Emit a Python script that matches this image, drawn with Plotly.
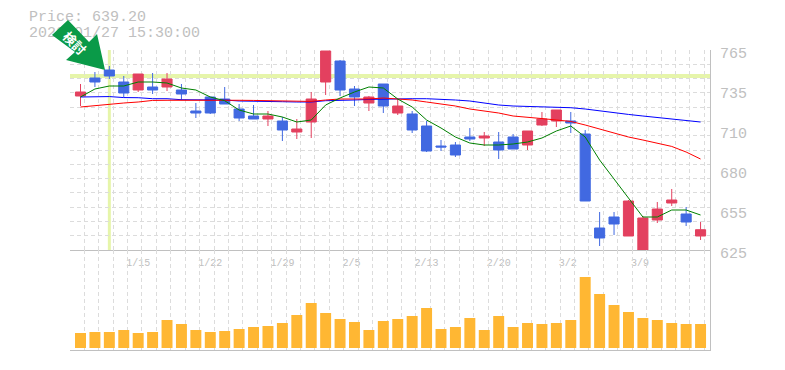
import plotly.graph_objects as go

# --- data ---
open_ = [732.8,745.4,751.0,742.6,737.0,739.1,739.1,737.0,722.3,732.1,730.7,723.7,718.8,716.7,715.3,707.6,714.6,742.6,757.3,737.7,727.9,741.2,720.9,720.2,711.8,697.8,698.5,704.1,703.4,700.6,704.1,698.5,712.5,715.3,715.3,706.2,640.4,648.1,634.8,625.0,646.0,657.9,650.2,634.8]
high = [741.2,749.6,753.8,746.8,748.2,748.9,748.9,741.2,727.9,732.1,739.1,727.2,726.5,722.3,718.1,716.7,735.6,764.3,758.0,739.8,732.8,741.2,730.7,722.3,715.3,702.0,700.6,710.4,707.6,707.6,706.2,708.3,721.6,723.0,721.6,709.0,651.6,651.6,660.0,648.8,658.6,667.7,655.1,644.6]
low = [725.8,739.1,744.7,732.1,735.6,734.2,736.3,730.0,717.4,720.2,727.2,715.3,716.7,711.8,701.3,702.7,703.4,733.5,732.8,725.8,722.3,720.9,719.5,706.9,693.6,694.3,690.1,701.3,697.8,688.7,695.7,695.0,711.8,711.1,706.9,659.3,627.8,635.5,634.8,625.0,643.9,655.8,641.8,632.0]
close = [735.6,742.6,746.8,734.9,748.2,737.0,744.7,734.2,720.9,720.9,727.2,717.4,716.7,718.8,709.0,709.7,730.7,764.3,737.0,732.1,732.1,725.8,725.8,709.0,694.3,697.1,691.5,702.7,704.8,695.0,695.7,708.3,716.7,723.0,713.9,659.3,633.4,643.2,659.3,647.4,653.7,660.0,644.6,639.2]
ma_short = [732.1,737.7,739.8,739.8,742.6,742.6,741.9,738.4,737.0,732.1,729.5,723.0,720.2,720.2,718.1,714.6,716.0,726.5,731.4,735.6,739.1,738.4,730.7,725.1,716.0,710.4,704.1,699.9,698.5,698.5,699.2,700.6,703.4,708.3,711.8,704.1,688.0,674.7,661.4,648.1,648.1,653.0,653.0,649.5]
ma_mid = [725.1,726.2,727.2,727.9,728.6,729.7,729.8,729.9,730.0,730.0,730.0,729.8,729.7,729.5,729.5,729.0,729.0,730.0,730.7,730.7,730.7,731.4,730.7,730.0,728.6,727.2,725.8,723.7,722.3,720.9,718.8,718.1,717.0,716.0,715.0,712.5,709.7,706.9,704.1,702.0,699.9,697.5,693.6,688.7]
ma_long = [732.1,732.4,732.4,731.7,731.6,730.9,730.9,730.2,730.2,730.0,730.0,729.3,729.3,728.8,728.8,728.6,728.6,729.5,729.5,730.0,730.4,730.7,730.9,730.9,730.9,730.7,730.0,729.3,727.9,726.5,725.8,725.4,725.3,725.1,724.6,723.7,722.3,721.1,719.9,718.8,717.7,716.3,715.6,714.6]
volume = [15,16,16,18,15,16,28,24,18,16,17,19,21,22,25,33,45,35,29,26,18,27,29,32,40,19,21,30,18,32,21,25,24,25,28,71,54,43,36,30,28,25,24,24]
date_ticks = [4,9,14,19,24,29,34,39]
date_labels = ["1/15","1/22","1/29","2/5","2/13","2/20","3/2","3/9"]
price_ticks = [625,653,681,709,737,765]
price_labels = ["625","655","680","710","735","765"]
header_1 = "Price: 639.20"
header_2 = "2020/01/27 15:30:00"
marker_label = "検討"
marked_index = 2
marked_price = 746.8

# --- styling / layout constants ---
W, H = 785, 370
PLOT_L, PLOT_R, PLOT_T, PLOT_MID, PLOT_B = 70, 710, 50, 250, 350
STEP = 14.42
X0 = 80.5
GRID = "#dcdcdc"
AXIS = "#c0c0c0"
TEXT = "#c0c0c0"
LIME = "#e6f5aa"
MONO = "Liberation Mono"
idx = list(range(len(close)))

def px_x(x):
    return (x - X0) / STEP

def paper_x(x):
    return x / W

def paper_y(y):
    return 1 - y / H

x_range = [px_x(PLOT_L), px_x(PLOT_R)]
x_dom = [paper_x(PLOT_L), paper_x(PLOT_R)]
x_grid = [x_range[0]] + [0.26 + k for k in range(44)]
y_grid = list(range(625, 766, 10))

fig = go.Figure()
fig.add_trace(go.Candlestick(
    x=idx, open=open_, high=high, low=low, close=close, xaxis="x", yaxis="y",
    increasing=dict(line=dict(color="#e3405f", width=1), fillcolor="#e3405f"),
    decreasing=dict(line=dict(color="#4169e1", width=1), fillcolor="#4169e1"),
    whiskerwidth=0, showlegend=False, hoverinfo="skip",
))
for values, color in ((ma_long, "#0000ff"), (ma_mid, "#ff0000"), (ma_short, "#008000")):
    fig.add_trace(go.Scatter(x=idx, y=values, mode="lines", xaxis="x", yaxis="y",
                             line=dict(color=color, width=1), showlegend=False, hoverinfo="skip"))
fig.add_trace(go.Bar(x=idx, y=volume, xaxis="x2", yaxis="y2", width=0.76,
                     marker=dict(color="#ffb733", line=dict(width=0)),
                     showlegend=False, hoverinfo="skip"))
# Header is a trace on a full-page overlay so that the arrow shape covers it
fig.add_trace(go.Scatter(
    x=[29, 29], y=[17, 33], mode="text",
    text=[header_1, header_2], textposition="middle right",
    textfont=dict(family=MONO, size=15, color=TEXT),
    xaxis="x3", yaxis="y3", showlegend=False, hoverinfo="skip"))

arrow = [(68,20),(89,42),(97,34),(105,70),(66,60),(75,52),(52,35)]
path = "M " + " L ".join(f"{paper_x(a):.4f},{paper_y(b):.4f}" for a, b in arrow) + " Z"
shapes = [
    dict(type="line", xref="x", yref="paper", x0=marked_index, x1=marked_index,
         y0=paper_y(PLOT_MID), y1=paper_y(PLOT_T), line=dict(color=LIME, width=3), layer="below"),
    dict(type="line", xref="paper", yref="y", x0=x_dom[0], x1=x_dom[1], y0=marked_price, y1=marked_price,
         line=dict(color=LIME, width=4), layer="below"),
    dict(type="path", xref="paper", yref="paper", path=path,
         fillcolor="#0a9a48", line=dict(width=0), layer="above"),
]

tick_pos = [i - (4 - len(t)) * 3 / STEP for i, t in zip(date_ticks, date_labels)]
grid_minor = dict(showgrid=True, gridcolor=GRID, griddash="4px,3px", gridwidth=1, ticks="")

fig.update_layout(
    width=W, height=H, autosize=False,
    margin=dict(l=0, r=0, t=0, b=0, pad=0, autoexpand=False),
    paper_bgcolor="#ffffff", plot_bgcolor="rgba(0,0,0,0)",
    showlegend=False, boxgap=0.3, boxgroupgap=0,
    shapes=shapes,
    annotations=[dict(text=marker_label, xref="paper", yref="paper",
                      x=paper_x(74.5), y=paper_y(42.5), xanchor="center", yanchor="middle",
                      showarrow=False, textangle=45,
                      font=dict(family="Noto Sans CJK JP", size=13, color="#ffffff", weight="bold"))],
    xaxis=dict(domain=x_dom, range=x_range, anchor="y", rangeslider=dict(visible=False),
               tickmode="array", tickvals=tick_pos, ticktext=date_labels,
               showgrid=False, zeroline=False, showline=True, linecolor=AXIS, linewidth=1,
               ticks="", ticklabelstandoff=3,
               tickfont=dict(family=MONO, size=10, color=TEXT),
               minor=dict(tickmode="array", tickvals=x_grid, **grid_minor)),
    xaxis2=dict(domain=x_dom, range=x_range, anchor="y2", matches="x",
                showticklabels=False, showgrid=False, zeroline=False,
                showline=True, linecolor=AXIS, linewidth=1, ticks="",
                minor=dict(tickmode="array", tickvals=x_grid, **grid_minor)),
    yaxis=dict(domain=[paper_y(PLOT_MID), paper_y(PLOT_T)], range=[625, 765], side="right", anchor="x",
               tickmode="array", tickvals=price_ticks, ticktext=price_labels,
               showgrid=False, zeroline=False, showline=True, linecolor=AXIS, linewidth=1,
               ticks="", ticklabelstandoff=6, ticklabelshift=3,
               tickfont=dict(family=MONO, size=15, color=TEXT),
               minor=dict(tickmode="array", tickvals=y_grid, **grid_minor)),
    yaxis2=dict(domain=[paper_y(PLOT_B), paper_y(PLOT_MID)], range=[-2, 98], side="right", anchor="x2",
                showticklabels=False, showgrid=False, zeroline=False,
                showline=True, linecolor=AXIS, linewidth=1, ticks=""),
    xaxis3=dict(domain=[0, 1], range=[0, W], anchor="y3", visible=False),
    yaxis3=dict(domain=[0, 1], range=[H, 0], anchor="x3", visible=False),
)
fig.write_html("out.html", config=dict(displayModeBar=False, responsive=False),
               post_script="document.body.style.margin='0';")
